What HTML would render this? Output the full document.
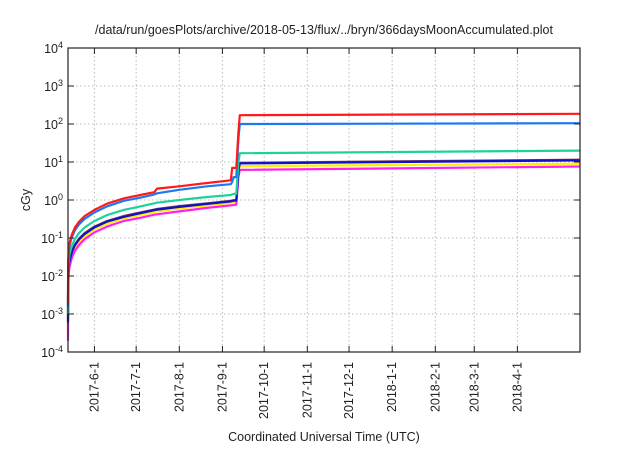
<!DOCTYPE html>
<html><head><meta charset="utf-8"><style>
body{margin:0;background:#fff;width:640px;height:448px;overflow:hidden}
text{font-family:"Liberation Sans",sans-serif;fill:#222}
</style></head><body>
<svg id="chart" width="640" height="448" xmlns="http://www.w3.org/2000/svg">
<text x="324" y="34" font-size="12.5" text-anchor="middle">/data/run/goesPlots/archive/2018-05-13/flux/../bryn/366daysMoonAccumulated.plot</text>
<text x="30" y="200" font-size="12.5" text-anchor="middle" transform="rotate(-90 30 200)">cGy</text>
<text x="324" y="441" font-size="12.5" text-anchor="middle">Coordinated Universal Time (UTC)</text>
<g id="grid"></g><g id="series"></g><g id="axes"></g>
</svg>
<script>
const yExps=[-4,-3,-2,-1,0,1,2,3,4];
const xTickDays=[19,49,80,111,141,172,202,233,264,292,323];
const xTickLabels=["2017-6-1","2017-7-1","2017-8-1","2017-9-1","2017-10-1","2017-11-1","2017-12-1","2018-1-1","2018-2-1","2018-3-1","2018-4-1"];
const days=[0,0.1,0.3,0.6,1,2,3,5,8,12,19,28,40,52,62,64,80,100,117,118,119,121,122.5,123.5,368];
const redVals=[0.002,0.012,0.03,0.05,0.07,0.1,0.13,0.19,0.27,0.38,0.55,0.8,1.1,1.35,1.6,2.0,2.3,2.8,3.3,7,7,7,60,170,185];
const blueVals=[0.0015,0.01,0.025,0.042,0.06,0.085,0.11,0.16,0.23,0.32,0.47,0.68,0.95,1.15,1.4,1.5,1.85,2.3,2.6,3,4,4,40,100,105];
const greenVals=[0.001,0.006,0.015,0.025,0.035,0.05,0.065,0.095,0.135,0.19,0.28,0.4,0.55,0.68,0.82,0.85,1.0,1.2,1.35,1.4,1.45,1.45,10,17,20];
const purpleVals=[0.0007,0.004,0.011,0.018,0.025,0.036,0.047,0.068,0.097,0.135,0.2,0.28,0.38,0.47,0.56,0.58,0.69,0.82,0.95,0.97,0.99,1.0,6,9.5,11.5];
const navyVals=[0.0006,0.0038,0.010,0.017,0.024,0.034,0.045,0.065,0.092,0.128,0.19,0.27,0.36,0.45,0.54,0.56,0.66,0.79,0.92,0.94,0.96,0.97,6,9.2,11];
const yellowVals=[0.0004,0.0033,0.009,0.015,0.021,0.03,0.039,0.057,0.08,0.11,0.17,0.24,0.33,0.4,0.48,0.5,0.6,0.72,0.84,0.85,0.86,0.87,5,7.8,9];
const magentaVals=[0.0002,0.0025,0.007,0.012,0.017,0.024,0.032,0.046,0.066,0.093,0.14,0.2,0.28,0.34,0.41,0.42,0.5,0.62,0.72,0.73,0.74,0.75,4,6.2,7.6];
const seriesList=[
 ["series-purple","#7a3a62",purpleVals],["series-yellow","#ffee00",yellowVals],["series-magenta","#ff22ee",magentaVals],
 ["series-navy","#1010c8",navyVals],["series-green","#1fd19a",greenVals],["series-blue","#1e78f0",blueVals],["series-red","#ff1a1a",redVals]];
const L=68,R=580,T=48,B=352,D0=0,D1=368;
const xs=d=>L+(d-D0)/(D1-D0)*(R-L);
const ys=v=>B-(Math.log10(v)+4)/8*(B-T);
const NS="http://www.w3.org/2000/svg";
function mk(t,a,p){const e=document.createElementNS(NS,t);for(const k in a)e.setAttribute(k,a[k]);p.appendChild(e);return e;}
const grid=document.getElementById('grid'),axes=document.getElementById('axes'),ser=document.getElementById('series');
yExps.forEach(e=>{const y=ys(Math.pow(10,e));
 if(e>-4&&e<4){const g=mk('line',{x1:L,x2:R,y1:y,y2:y,stroke:'#bbb','stroke-dasharray':'1.5,2.5','stroke-width':1},grid);
 
 }
 mk('line',{x1:L,x2:L+6,y1:y,y2:y,stroke:'#222'},axes);mk('line',{x1:R,x2:R-6,y1:y,y2:y,stroke:'#222'},axes);
 const t=mk('text',{x:L-5,y:y+5,'font-size':12.5,'text-anchor':'end'},axes);
 
 
 t.innerHTML='10<tspan dy="-5" font-size="9">'+e+'</tspan>';});
xTickDays.forEach((d,i)=>{const x=xs(d);
 const g=mk('line',{x1:x,x2:x,y1:T,y2:B,stroke:'#bbb','stroke-dasharray':'1.5,2.5'},grid);
 
 
 mk('line',{x1:x,x2:x,y1:B,y2:B-6,stroke:'#222'},axes);mk('line',{x1:x,x2:x,y1:T,y2:T+6,stroke:'#222'},axes);
 const t=mk('text',{x:x+4,y:B+10,'font-size':12.5,'text-anchor':'end',transform:'rotate(-90 '+(x+4)+' '+(B+10)+')'},axes);
 
 
 t.textContent=xTickLabels[i];});
const f=mk('rect',{x:L,y:T,width:R-L,height:B-T,fill:'none',stroke:'#222','stroke-width':1.2},axes);


seriesList.forEach(s=>{const pts=s[2].map((v,i)=>xs(days[i]).toFixed(1)+','+ys(v).toFixed(1)).join(' ');
 const p=mk('polyline',{points:pts,fill:'none',stroke:s[1],'stroke-width':2.2,'stroke-linejoin':'round'},ser);
 
 });
</script>
</body></html>
